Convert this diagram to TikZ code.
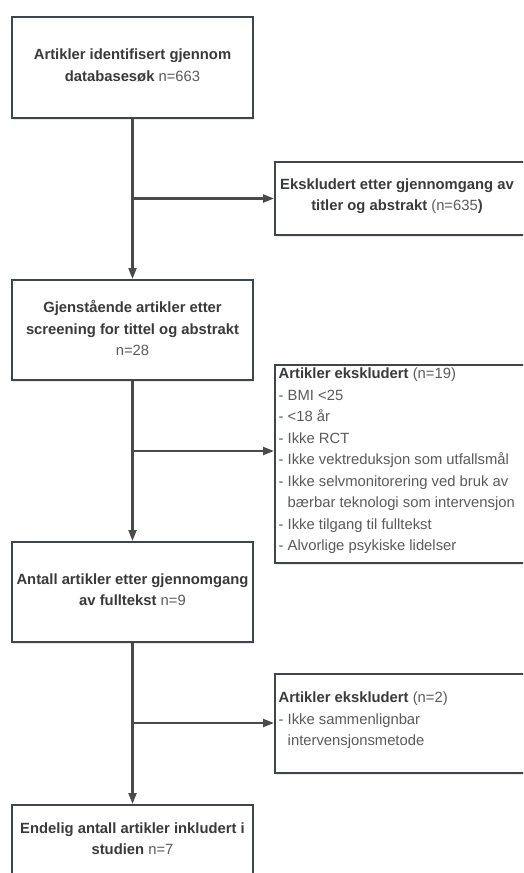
\documentclass[tikz,border=0pt]{standalone}
\usepackage{fontspec}
\setmainfont{Liberation Sans}
\usetikzlibrary{arrows.meta,shadows}
\definecolor{edge}{HTML}{3D4650}
\definecolor{linec}{HTML}{4A4A4A}
\definecolor{boldtxt}{HTML}{3A3A3A}
\definecolor{regtxt}{HTML}{5A5A5A}
\newcommand{\bt}[1]{{\bfseries\color{boldtxt}#1}}
\tikzset{
  box/.style={draw=edge, line width=2pt, fill=white, rectangle,
    drop shadow={shadow xshift=1pt, shadow yshift=-1.5pt, opacity=0.18}},
  txt/.style={font=\fontsize{14.8}{21.5}\selectfont, text=regtxt, align=center},
  ltxt/.style={font=\fontsize{14.8}{21.5}\selectfont, text=regtxt, align=left, anchor=north west},
  conn/.style={draw=linec, line width=2.2pt, -{Triangle[length=11pt,width=8pt]}}
}
\begin{document}
\begin{tikzpicture}[x=1pt,y=-1pt]
\useasboundingbox (0,0) rectangle (523,873);
\clip (0,0) rectangle (523,873);
% main boxes
\node[box, minimum width=241pt, minimum height=101pt] (b1) at (132.5,67.5) {};
\node[box, minimum width=260pt, minimum height=73pt, anchor=north west] (e1) at (274,161) {};
\node[box, minimum width=241pt, minimum height=100pt] (b2) at (132.5,330) {};
\node[box, minimum width=260pt, minimum height=198pt, anchor=north west] (e2) at (274,364) {};
\node[box, minimum width=241pt, minimum height=100pt] (b3) at (132.5,592) {};
\node[box, minimum width=260pt, minimum height=99pt, anchor=north west] (e3) at (274,673) {};
\node[box, minimum width=241pt, minimum height=100pt, anchor=north] (b4) at (132.5,804) {};
% texts
\node[txt] (t1) at (132.5,65.5) {\bt{Artikler identifisert gjennom}\\\bt{databasesøk} n=663};
\node[txt] (t2) at (397,196) {\bt{Ekskludert etter gjennomgang av}\\\bt{titler og abstrakt} (n=635\bt{)}};
\node[txt] (t3) at (132.5,328) {\bt{Gjenstående artikler etter}\\\bt{screening for tittel og abstrakt}\\n=28};
\node[ltxt, inner xsep=0pt] (t4) at (278.5,364.5) {\bt{Artikler ekskludert} (n=19)\\- BMI <25\\- <18 år\\- Ikke RCT\\- Ikke vektreduksjon som utfallsmål\\- Ikke selvmonitorering ved bruk av\\\phantom{- }bærbar teknologi som intervensjon\\- Ikke tilgang til fulltekst\\- Alvorlige psykiske lidelser};
\node[txt] (t5) at (132.5,589.5) {\bt{Antall artikler etter gjennomgang}\\\bt{av fulltekst} n=9};
\node[ltxt, inner xsep=0pt] (t6) at (278.5,688.5) {\bt{Artikler ekskludert} (n=2)\\- Ikke sammenlignbar\\\phantom{- }intervensjonsmetode};
\node[txt] (t7) at (132.5,838.5) {\bt{Endelig antall artikler inkludert i}\\\bt{studien} n=7};
% connectors
\coordinate (j1) at (b1.south |- e1.west);
\coordinate (j2) at (b2.south |- 0,451);
\coordinate (j3) at (b3.south |- 0,723);
\draw[conn] (b1.south) -- (b2.north);
\draw[conn] (j1) -- (e1.west);
\draw[conn] (b2.south) -- (b3.north);
\draw[conn] (j2) -- (e2.west |- j2);
\draw[conn] (b3.south) -- (b4.north);
\draw[conn] (j3) -- (e3.west |- j3);
\end{tikzpicture}
\end{document}
